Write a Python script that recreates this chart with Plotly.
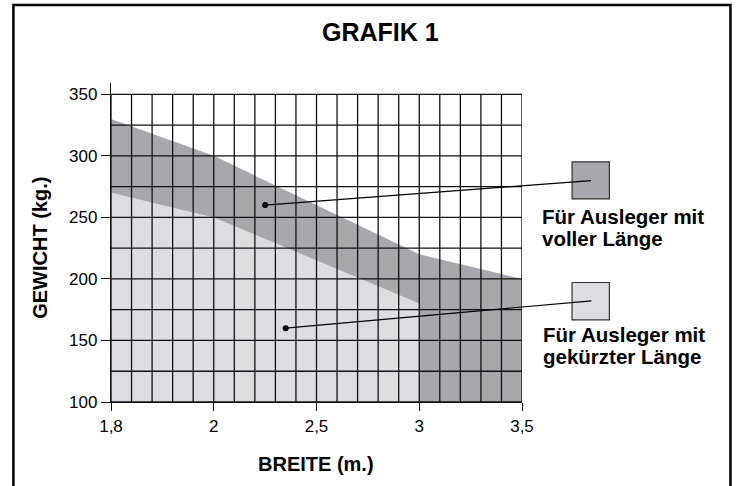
import numpy as np
import plotly.graph_objects as go

# Axis labels (Breite in m, Gewicht in kg)
breite_ticks = [1.8, 2.0, 2.5, 3.0, 3.5]
breite_ticktext = ["1,8", "2", "2,5", "3", "3,5"]
gewicht_ticks = [100, 150, 200, 250, 300, 350]
gewicht_grid = [100, 125, 150, 175, 200, 225, 250, 275, 300, 325, 350]

# Upper limit for booms of full length
voll_breite = [1.8, 2.0, 3.0, 3.5]
voll_gewicht = [330, 300, 220, 200]

# Upper limit for shortened booms
kurz_breite = [1.8, 2.0, 3.0]
kurz_gewicht = [270, 250, 180]

# Reference dots of the callout lines
punkt_voll = (2.25, 260)
punkt_kurz = (2.35, 160)

# The breite axis is drawn with 5 equal columns between labelled values
grid_pos = list(range(0, 21))
tick_pos = [0, 5, 10, 15, 20]


def xpos(b):
    return np.interp(b, breite_ticks, tick_pos)


Y_MIN, Y_MAX = 100, 359.2
FIG_W, FIG_H = 737, 486
L, R, T, B = 111, 521.7, 83, 402.3
PW, PH = R - L, B - T


def paper(xp, yp):
    """Figure pixel -> paper coordinates."""
    return (xp - L) / PW, (B - yp) / PH


def data_to_paper(xv, yv):
    return xv / 20.0, (yv - Y_MIN) / (Y_MAX - Y_MIN)


DARK = "#a7a8ab"
LIGHT = "#dcdde0"
FONT = "Liberation Sans"

fig = go.Figure()

# Light area (shortened boom)
lx = list(xpos(kurz_breite)) + [xpos(3.0), xpos(1.8)]
ly = kurz_gewicht + [100, 100]
fig.add_trace(go.Scatter(x=lx, y=ly, fill="toself", fillcolor=LIGHT,
                         mode="lines", line=dict(width=0), hoverinfo="skip"))

# Dark area (full length boom)
dx = list(xpos(voll_breite)) + [xpos(3.5), xpos(3.0)] + list(xpos(kurz_breite))[::-1]
dy = voll_gewicht + [100, 100] + kurz_gewicht[::-1]
fig.add_trace(go.Scatter(x=dx, y=dy, fill="toself", fillcolor=DARK,
                         mode="lines", line=dict(width=0), hoverinfo="skip"))

# Grid drawn on top of the areas
gx, gy = [], []
for p in grid_pos:
    gx += [p, p, None]
    gy += [100, 350, None]
for g in gewicht_grid:
    gx += [0, 20, None]
    gy += [g, g, None]
fig.add_trace(go.Scatter(x=gx, y=gy, mode="lines",
                         line=dict(color="#111111", width=1.3), hoverinfo="skip"))

# Callout dots
fig.add_trace(go.Scatter(x=[xpos(punkt_voll[0]), xpos(punkt_kurz[0])],
                         y=[punkt_voll[1], punkt_kurz[1]], mode="markers",
                         marker=dict(color="black", size=6), hoverinfo="skip"))

shapes = []
# Outer frame
fx0, fy0 = paper(13.5, 5)
fx1, fy1 = paper(730, 495)
shapes.append(dict(type="rect", xref="paper", yref="paper", x0=fx0, y0=fy0, x1=fx1, y1=fy1,
                   line=dict(color="black", width=2.5), fillcolor="rgba(0,0,0,0)"))

# Legend swatches
for (x0p, y0p, x1p, y1p, col) in [(571.7, 162, 609, 199, DARK), (571.7, 282.7, 609, 320, LIGHT)]:
    a0, b0 = paper(x0p, y1p)
    a1, b1 = paper(x1p, y0p)
    shapes.append(dict(type="rect", xref="paper", yref="paper", x0=a0, y0=b0, x1=a1, y1=b1,
                       line=dict(color="#333333", width=1.2), fillcolor=col))

# Callout lines
for pt, end in [(punkt_voll, (590.7, 180.7)), (punkt_kurz, (591, 301))]:
    a0, b0 = data_to_paper(xpos(pt[0]), pt[1])
    a1, b1 = paper(*end)
    shapes.append(dict(type="line", xref="paper", yref="paper", x0=a0, y0=b0, x1=a1, y1=b1,
                       line=dict(color="black", width=1.2)))

annotations = []


def label(text, xp, yp, size, xanchor="left", angle=0):
    ax, ay = paper(xp, yp)
    annotations.append(dict(text=text, x=ax, y=ay, xref="paper", yref="paper",
                            xanchor=xanchor, yanchor="middle", showarrow=False,
                            textangle=angle,
                            font=dict(family=FONT, size=size, color="black")))


label("<b>GRAFIK 1</b>", 380, 32, 25, xanchor="center")
label("<b>Für Ausleger mit</b>", 540, 217, 20.5)
label("<b>voller Länge</b>", 540, 239, 20.5)
label("<b>Für Ausleger mit</b>", 541, 335, 20.5)
label("<b>gekürzter Länge</b>", 541, 357, 20.5)
label("<b>BREITE (m.)</b>", 316, 464, 20, xanchor="center")
label("<b>GEWICHT (kg.)</b>", 40, 248, 20, xanchor="center", angle=-90)

fig.update_layout(
    width=FIG_W, height=FIG_H, autosize=False,
    margin=dict(l=L, r=FIG_W - R, t=T, b=FIG_H - B, pad=0),
    paper_bgcolor="white", plot_bgcolor="white",
    showlegend=False,
    shapes=shapes, annotations=annotations,
    xaxis=dict(range=[0, 20], tickvals=tick_pos, ticktext=breite_ticktext,
               ticks="outside", ticklen=8, tickwidth=1.3, tickcolor="#111111",
               showgrid=False, zeroline=False, showline=True, linecolor="#111111",
               linewidth=1.3, tickfont=dict(family=FONT, size=17, color="black")),
    yaxis=dict(range=[Y_MIN, Y_MAX], tickvals=gewicht_ticks,
               ticks="outside", ticklen=9, tickwidth=1.3, tickcolor="#111111",
               showgrid=False, zeroline=False, showline=True, linecolor="#111111",
               linewidth=1.3, tickfont=dict(family=FONT, size=17, color="black")),
)

fig.write_html("out.html")
